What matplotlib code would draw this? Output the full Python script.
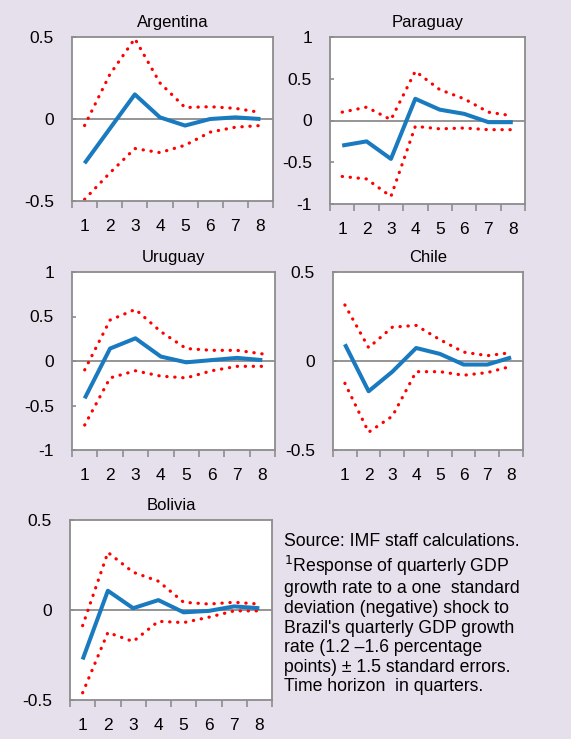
import numpy as np
import matplotlib.pyplot as plt
from matplotlib.ticker import FixedLocator

plt.rcParams['font.family'] = ['Liberation Sans', 'DejaVu Sans']

quarters = [1, 2, 3, 4, 5, 6, 7, 8]

# impulse responses (central estimate, upper band, lower band)
arg_mid = [-0.27, -0.06, 0.15, 0.01, -0.04, 0.0, 0.01, 0.0]
arg_up = [-0.04, 0.27, 0.49, 0.22, 0.07, 0.075, 0.065, 0.04]
arg_lo = [-0.49, -0.33, -0.18, -0.205, -0.16, -0.08, -0.05, -0.04]

par_mid = [-0.30, -0.25, -0.46, 0.26, 0.13, 0.08, -0.02, -0.02]
par_up = [0.10, 0.16, 0.01, 0.59, 0.37, 0.26, 0.10, 0.055]
par_lo = [-0.67, -0.70, -0.91, -0.07, -0.10, -0.09, -0.11, -0.11]

uru_mid = [-0.42, 0.14, 0.255, 0.05, -0.015, 0.01, 0.035, 0.01]
uru_up = [-0.10, 0.46, 0.58, 0.33, 0.14, 0.12, 0.12, 0.08]
uru_lo = [-0.72, -0.19, -0.11, -0.17, -0.19, -0.11, -0.06, -0.06]

chi_mid = [0.094, -0.17, -0.06, 0.073, 0.04, -0.02, -0.02, 0.02]
chi_up = [0.315, 0.075, 0.19, 0.20, 0.12, 0.05, 0.03, 0.047]
chi_lo = [-0.125, -0.40, -0.31, -0.06, -0.06, -0.08, -0.065, -0.03]

bol_mid = [-0.275, 0.107, 0.01, 0.055, -0.013, -0.005, 0.02, 0.01]
bol_up = [-0.087, 0.32, 0.21, 0.16, 0.043, 0.033, 0.043, 0.033]
bol_lo = [-0.46, -0.125, -0.175, -0.063, -0.07, -0.04, -0.005, -0.005]

bg = '#e6e0ec'
blue = '#1a7abf'
grey = '#8c8c8c'

W, H = 571, 739
fig = plt.figure(figsize=(W / 100, H / 100), dpi=100, facecolor=bg)


def px_axes(left, top, right, bottom):
    return fig.add_axes([left / W, 1 - bottom / H, (right - left) / W, (bottom - top) / H])


panels = [
    ('Argentina', (72, 37, 273, 201), arg_mid, arg_up, arg_lo, (-0.5, 0.5), [-0.5, 0, 0.5]),
    ('Paraguay', (330, 37, 525, 204), par_mid, par_up, par_lo, (-1, 1), [-1, -0.5, 0, 0.5, 1]),
    ('Uruguay', (72, 272, 275, 450), uru_mid, uru_up, uru_lo, (-1, 1), [-1, -0.5, 0, 0.5, 1]),
    ('Chile', (333, 272, 523, 450), chi_mid, chi_up, chi_lo, (-0.5, 0.5), [-0.5, 0, 0.5]),
    ('Bolivia', (70, 520, 272, 700), bol_mid, bol_up, bol_lo, (-0.5, 0.5), [-0.5, 0, 0.5]),
]

for name, box, mid, up, lo, ylim, yt in panels:
    ax = px_axes(*box)
    ax.set_facecolor('white')
    ax.axhline(0, color=grey, lw=1.3, zorder=1)
    dots = dict(color='red', lw=2.3, linestyle=(0, (0.1, 2.4)), dash_capstyle='round', zorder=2)
    ax.plot(quarters, up, **dots)
    ax.plot(quarters, lo, **dots)
    ax.plot(quarters, mid, color=blue, lw=2.9, zorder=3, solid_capstyle='butt')
    ax.set_xlim(0.5, 8.5)
    ax.set_ylim(*ylim)
    ax.set_yticks(yt)
    ax.set_yticklabels(['%g' % v for v in yt])
    ax.set_xticks(quarters)
    ax.xaxis.set_minor_locator(FixedLocator(np.arange(0.5, 9, 1)))
    ax.tick_params(axis='x', which='major', length=0, pad=13, labelsize=12.5)
    ax.tick_params(axis='x', which='minor', length=5, width=1.2, color=grey, direction='out')
    ax.tick_params(axis='y', length=3, width=1.2, color=grey, direction='in', pad=13, labelsize=12.5)
    for s in ax.spines.values():
        s.set_color(grey)
        s.set_linewidth(1.3)
    ax.set_title(name, fontsize=12, pad=7)

note = ("Source: IMF staff calculations.\n"
        "$^{1}$Response of quarterly GDP\n"
        "growth rate to a one  standard\n"
        "deviation (negative) shock to\n"
        "Brazil's quarterly GDP growth\n"
        "rate (1.2 \u20131.6 percentage\n"
        "points) \u00b1 1.5 standard errors.\n"
        "Time horizon  in quarters.")
fig.text(284 / W, 1 - 533 / H, note, fontsize=12.7, va='top', ha='left', linespacing=1.2)

fig.savefig('out.png', dpi=100, facecolor=bg)
